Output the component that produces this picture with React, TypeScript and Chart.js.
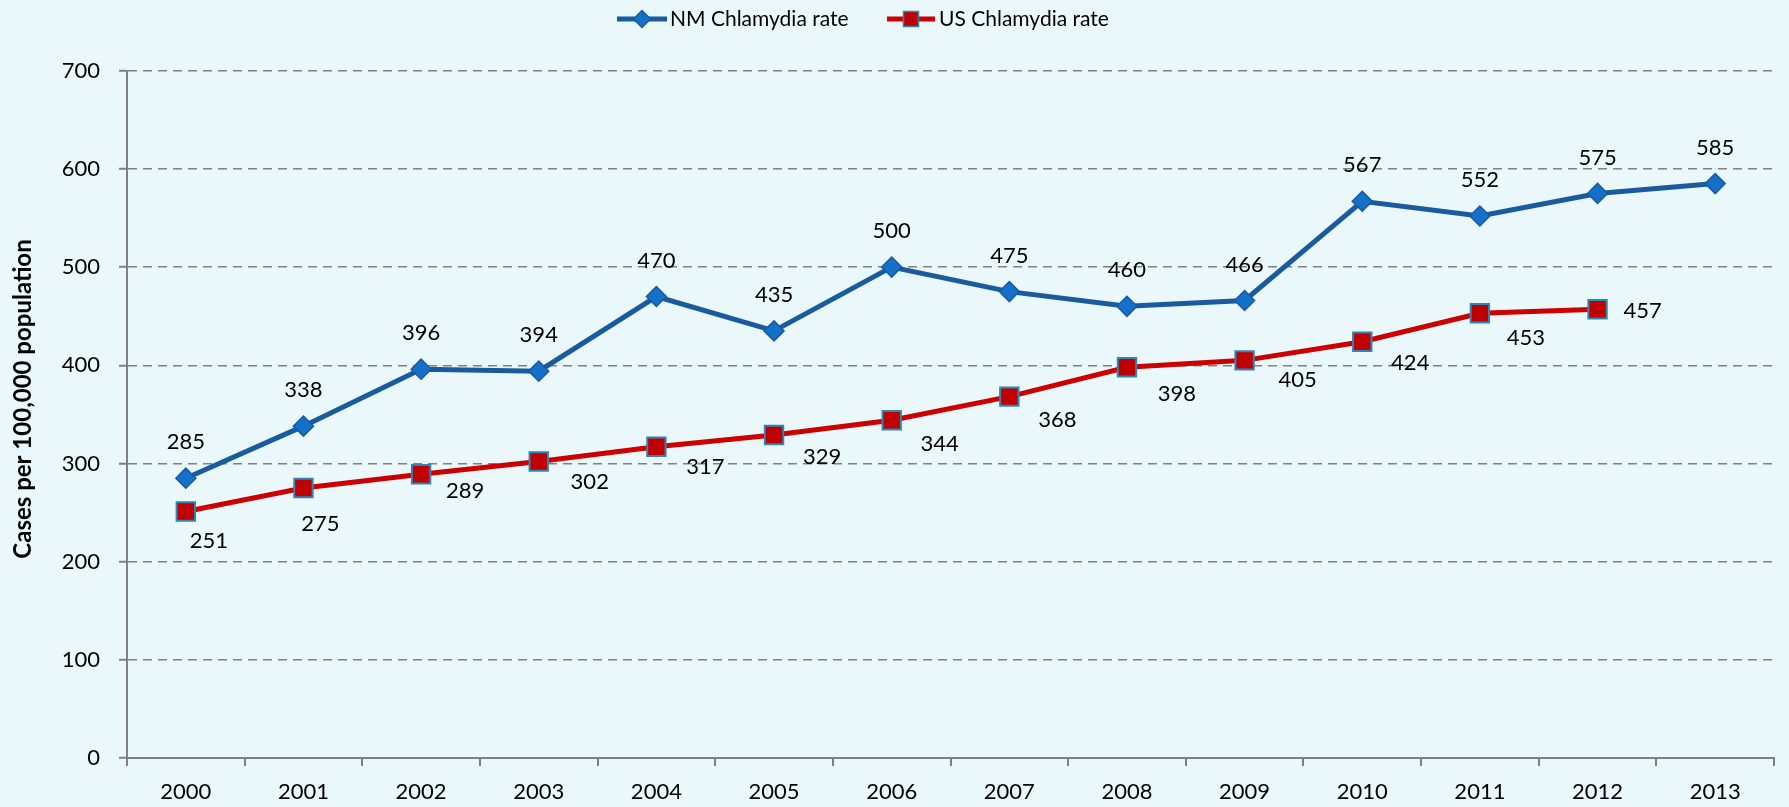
import React, { useEffect, useRef } from "react";
import { Chart, registerables } from "chart.js";

Chart.register(...registerables);

const years = ["2000", "2001", "2002", "2003", "2004", "2005", "2006", "2007", "2008", "2009", "2010", "2011", "2012", "2013"];
const nmRate = [285, 338, 396, 394, 470, 435, 500, 475, 460, 466, 567, 552, 575, 585];
const usRate: (number | null)[] = [251, 275, 289, 302, 317, 329, 344, 368, 398, 405, 424, 453, 457, null];
const seriesNames = ["NM Chlamydia rate", "US Chlamydia rate"];
const yAxisTitle = "Cases per 100,000 population";

// label nudges (pixels) for the value labels
const nmLabelDy = -36;
const usLabelDx = [23, 17, 44, 51, 49, 48, 48, 48, 50, 53, 48, 46, 45];
const usLabelDy = [29, 36, 17, 20, 20, 22, 24, 23, 27, 20, 21, 25, 2];

const FONT = "Lato, 'Open Sans', sans-serif";
const BG = "#EAF8FC";
const NM_LINE = "#1A5B9E";
const NM_FILL = "#1570C9";
const US_LINE = "#CC0000";
const US_FILL = "#C00000";
const US_BORDER = "#2C86B8";
const GRID = "#808080";

const bgPlugin = {
  id: "bg",
  beforeDraw(chart: any) {
    const ctx = chart.ctx;
    ctx.save();
    ctx.fillStyle = BG;
    ctx.fillRect(0, 0, chart.width, chart.height);
    ctx.restore();
  },
};

const labelPlugin = {
  id: "valueLabels",
  afterDatasetsDraw(chart: any) {
    const ctx = chart.ctx;
    ctx.save();
    ctx.font = `22px ${FONT}`;
    ctx.fillStyle = "#000";
    ctx.textAlign = "center";
    ctx.textBaseline = "middle";
    chart.data.datasets.forEach((ds: any, di: number) => {
      const meta = chart.getDatasetMeta(di);
      meta.data.forEach((pt: any, i: number) => {
        const v = ds.data[i];
        if (v == null) return;
        let dx = 0;
        let dy = nmLabelDy;
        if (di === 1) {
          dx = usLabelDx[i];
          dy = usLabelDy[i];
        }
        ctx.fillText(String(v), pt.x + dx, pt.y + dy);
      });
    });
    ctx.restore();
  },
};

const legendPlugin = {
  id: "customLegend",
  afterDraw(chart: any) {
    const ctx = chart.ctx;
    ctx.save();
    const y = 19;
    ctx.font = `21px ${FONT}`;
    ctx.fillStyle = "#000";
    ctx.textAlign = "left";
    ctx.textBaseline = "middle";
    // NM item
    let x = 617;
    ctx.strokeStyle = NM_LINE;
    ctx.lineWidth = 5;
    ctx.beginPath();
    ctx.moveTo(x, y);
    ctx.lineTo(x + 50, y);
    ctx.stroke();
    const cx = x + 25;
    const r = 8.5;
    ctx.beginPath();
    ctx.moveTo(cx, y - r);
    ctx.lineTo(cx + r, y);
    ctx.lineTo(cx, y + r);
    ctx.lineTo(cx - r, y);
    ctx.closePath();
    ctx.fillStyle = NM_FILL;
    ctx.fill();
    ctx.lineWidth = 1.5;
    ctx.strokeStyle = NM_LINE;
    ctx.stroke();
    ctx.fillStyle = "#000";
    ctx.fillText(seriesNames[0], x + 53, y);
    // US item
    x = 887;
    ctx.strokeStyle = US_LINE;
    ctx.lineWidth = 5;
    ctx.beginPath();
    ctx.moveTo(x, y);
    ctx.lineTo(x + 48, y);
    ctx.stroke();
    const sx = x + 24;
    const h = 7.5;
    ctx.fillStyle = US_FILL;
    ctx.fillRect(sx - h, y - h, 2 * h, 2 * h);
    ctx.lineWidth = 1.5;
    ctx.strokeStyle = US_BORDER;
    ctx.strokeRect(sx - h, y - h, 2 * h, 2 * h);
    ctx.fillStyle = "#000";
    ctx.fillText(seriesNames[1], x + 52, y);
    // Y axis title
    ctx.save();
    ctx.translate(23, 399);
    ctx.rotate(-Math.PI / 2);
    ctx.font = `bold 24px ${FONT}`;
    ctx.textAlign = "center";
    ctx.textBaseline = "middle";
    ctx.fillStyle = "#000";
    ctx.fillText(yAxisTitle, 0, 0);
    ctx.restore();
    ctx.restore();
  },
};

export default function App() {
  const ref = useRef<HTMLCanvasElement | null>(null);

  useEffect(() => {
    if (!ref.current) return;
    const chart = new Chart(ref.current, {
      type: "line",
      data: {
        labels: years,
        datasets: [
          {
            label: seriesNames[0],
            data: nmRate,
            borderColor: NM_LINE,
            borderWidth: 5,
            tension: 0,
            pointStyle: "rectRot",
            pointRadius: 10,
            pointBackgroundColor: NM_FILL,
            pointBorderColor: NM_LINE,
            pointBorderWidth: 1.5,
          },
          {
            label: seriesNames[1],
            data: usRate,
            borderColor: US_LINE,
            borderWidth: 5,
            tension: 0,
            pointStyle: "rect",
            pointRadius: 13,
            pointBackgroundColor: US_FILL,
            pointBorderColor: US_BORDER,
            pointBorderWidth: 2,
          },
        ],
      },
      options: {
        animation: false,
        responsive: false,
        layout: { padding: { top: 70.7, right: 6.3, left: 0, bottom: 0 } },
        plugins: {
          legend: { display: false },
          tooltip: { enabled: false },
        },
        scales: {
          x: {
            type: "category",
            offset: true,
            grid: {
              offset: true,
              drawOnChartArea: false,
              drawTicks: true,
              tickLength: 8,
              color: GRID,
              lineWidth: 2,
            },
            border: { display: true, color: GRID, width: 2 },
            ticks: {
              font: { family: FONT, size: 22 },
              color: "#000",
              padding: 13,
              maxRotation: 0,
              autoSkip: false,
            },
            afterFit(s: any) {
              s.height = 49;
            },
          },
          y: {
            min: 0,
            max: 700,
            ticks: {
              stepSize: 100,
              font: { family: FONT, size: 22 },
              color: "#000",
              padding: 19,
            },
            grid: {
              color: GRID,
              lineWidth: 1.5,
              tickLength: 8,
              tickColor: GRID,
              tickWidth: 2,
            },
            border: { display: true, color: GRID, width: 2, dash: [9, 6] },
            afterFit(s: any) {
              s.width = 127;
            },
          },
        },
      } as any,
      plugins: [bgPlugin, labelPlugin, legendPlugin],
    });
    return () => chart.destroy();
  }, []);

  return (
    <div style={{ position: "fixed", left: 0, top: 0, width: 1789, height: 807, background: BG }}>
      <canvas ref={ref} width={1789} height={807} style={{ display: "block", width: 1789, height: 807 }} />
    </div>
  );
}
